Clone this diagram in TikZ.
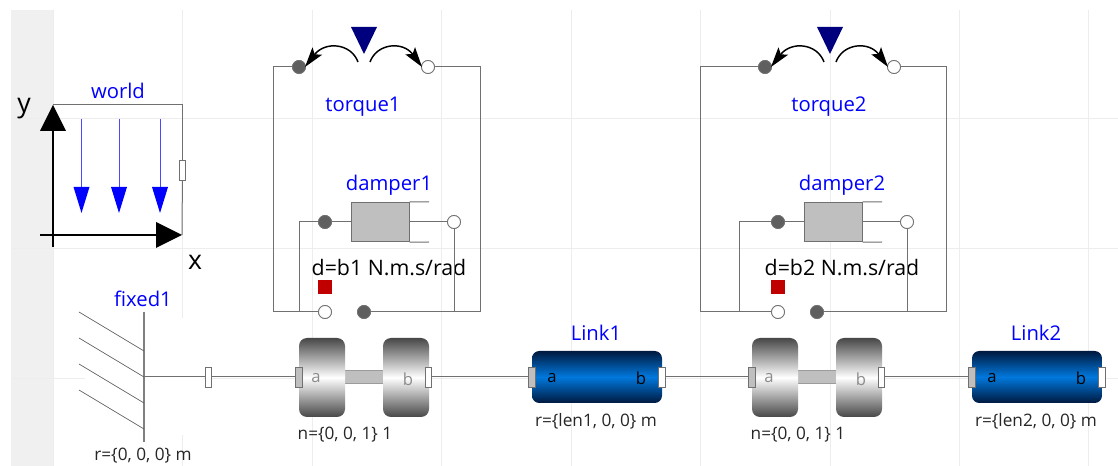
\documentclass[tikz,border=0pt]{standalone}
\usepackage{fontspec}
\setmainfont{Open Sans}
\usetikzlibrary{arrows.meta}
\definecolor{gridc}{HTML}{EDEDED}
\definecolor{wire}{HTML}{707070}
\definecolor{dark}{HTML}{5F5F5F}
\definecolor{silver}{HTML}{BFBFBF}
\definecolor{navyt}{HTML}{00007F}
\definecolor{mredd}{HTML}{C00000}
\definecolor{linkd}{HTML}{00193F}
\definecolor{linkm}{HTML}{0078DC}
\definecolor{bluethin}{HTML}{4A4AFF}
\tikzset{
 x=0.75pt,y=-0.75pt,
 wirel/.style={draw=wire,line width=0.75pt},
 flange/.style={circle,draw=wire,line width=0.6pt,minimum size=9.75pt,inner sep=0pt},
 darkf/.style={flange,fill=dark},
 whitef/.style={flange,fill=white},
 portw/.style={draw=wire,line width=0.6pt,fill=white,minimum width=5pt,minimum height=15pt,inner sep=0pt},
 ports/.style={portw,fill=silver},
 lab/.style={text=blue,font=\fontsize{15.2}{15}\selectfont,inner sep=0pt},
 par/.style={text=black,font=\fontsize{16}{16}\selectfont,inner sep=0pt},
 small/.style={text=black!85,font=\fontsize{12.9}{13}\selectfont,inner sep=0pt},
 wheel/.style={rounded corners=6pt,top color=black!72,bottom color=black!72,middle color=white,draw=none},
 linkbody/.style={rounded corners=5.5pt,top color=linkd,bottom color=linkd,middle color=linkm,draw=none},
 shaftb/.style={fill=silver,draw=wire!70,line width=0.5pt},
 damperb/.style={draw=wire,line width=0.75pt,fill=silver,inner sep=0pt,minimum width=43.5pt,minimum height=29.5pt},
 curvea/.style={line width=1.1pt,-{Stealth[length=15pt,width=9pt,inset=3pt]}},
 blueh/.style={draw=bluethin,line width=0.75pt},
}
% revolute joint: #1 name, #2 x offset
\newcommand{\revjoint}[2]{%
 \begin{scope}[shift={(#2,0)}]
 \draw[shaftb] (344,370) rectangle (384,383);
 \shade[wheel] (299,338) rectangle (345,417);
 \shade[wheel] (383,338) rectangle (429,417);
 \node[text=black!45,font=\fontsize{12.5}{12.5}\selectfont,inner sep=0pt] at (316,378) {a};
 \node[text=black!45,font=\fontsize{12.5}{12.5}\selectfont,inner sep=0pt] at (408,379) {b};
 \node[ports] (#1a) at (299,377) {};
 \node[portw] (#1b) at (428.5,377) {};
 \node[small] at (345,435) {n=\{0, 0, 1\} 1};
 \end{scope}}
% link: #1 name, #2 x offset, #3 title, #4 length name
\newcommand{\linkbar}[4]{%
 \begin{scope}[shift={(#2,0)}]
 \shade[linkbody] (532,351) rectangle (662,403);
 \node[text=black,font=\fontsize{12.5}{12.5}\selectfont,inner sep=0pt] at (552,378) {a};
 \node[text=black,font=\fontsize{12.5}{12.5}\selectfont,inner sep=0pt] at (641,378) {b};
 \node[ports] (#1a) at (532,377) {};
 \node[portw] (#1b) at (662,377) {};
 \node[lab] at (596,333) {#3};
 \node[small] at (596,421) {r=\{#4, 0, 0\} m};
 \end{scope}}
% torque source and damper group: #1 suffix, #2 torque dx, #3 damper dx, #4 outer left wire x, #5 index, #6 inner left wire x
\newcommand{\drivegroup}[6]{%
 \begin{scope}[shift={(#2,0)}]
 \fill[navyt] (351,27) -- (377,27) -- (364,54) -- cycle;
 \node[darkf] (ta#1) at (299,67) {};
 \node[whitef] (tb#1) at (428,67) {};
 \coordinate (wr#1) at (480,312);
 \end{scope}
 \coordinate (wl#1) at (#4,312);
 \coordinate (dl#1) at (#6,312);
 \begin{scope}[shift={(#3,0)}]
 \node[damperb] (db#1) at (380,222) {};
 \node[darkf] (da#1) at (325,222) {};
 \node[whitef] (dc#1) at (454,222) {};
 \coordinate (dt#1) at (429,202);
 \coordinate (dd#1) at (429,242);
 \node[lab] at (389,185) {damper#5};
 \node[par] at (389,268) {d=b#5 N.m.s/rad};
 \fill[mredd] (318,280) rectangle (332,294);
 \node[whitef] (fa#1) at (325,312) {};
 \node[darkf] (fb#1) at (364,312) {};
 \end{scope}
 \draw[wirel] (ta#1) -| (wl#1) -- (fa#1);
 \draw[wirel] (tb#1) -| (wr#1) -- (fb#1);
 \draw[wirel] (da#1) -| (dl#1);
 \draw[wirel] (dc#1) -- (dc#1 |- wr#1);
 \draw[wirel] (da#1) -- (db#1);
 \draw[wirel] (db#1) -- (dc#1);
 \draw[wirel] (db#1.north east) -- (dt#1);
 \draw[wirel] (db#1.south east) -- (dd#1);
 \node[damperb] at (db#1) {};
 \node[darkf] at (da#1) {};
 \node[whitef] at (dc#1) {};
 \node[whitef] at (fa#1) {};
 \node[darkf] at (fb#1) {};
 \node[darkf] at (ta#1) {};
 \node[whitef] at (tb#1) {};
 \begin{scope}[shift={(#2,0)}]
 \draw[curvea] (358,62) .. controls (351,43) and (325,41) .. (305,67);
 \draw[curvea] (370,62) .. controls (377,43) and (403,41) .. (422,67);
 \node[lab] at (363,107) {torque#5};
 \end{scope}
}
\begin{document}
\begin{tikzpicture}
\useasboundingbox (0,0) rectangle (1118,466);
\fill[white] (0,0) rectangle (1118,466);
% canvas grid
\fill[black!6] (11,10) rectangle (53,466);
\foreach \gx in {53,182,312,441,571,700,830,959,1088}
  \draw[gridc,line width=0.6pt] (\gx,10) -- (\gx,466);
\foreach \gy in {118,248,378}
  \draw[gridc,line width=0.6pt] (11,\gy) -- (1118,\gy);
\fill[white] (85,318) rectangle (203,435);
% world
\node[portw,minimum height=15pt] (wp) at (182.5,170) {};
\coordinate (wtl) at (53,105);
\coordinate (wbr) at (182,235);
\draw[wirel] (wtl) -- (wtl -| wp) -- (wp);
\draw[wirel] (wp) -- (wbr);
\node[portw] at (wp) {};
\foreach \ax in {81.5,119,160}{
  \draw[blueh] (\ax,119) -- (\ax,190);
  \fill[blue] (\ax-8,187) -- (\ax+8,187) -- (\ax,213) -- cycle;
}
\coordinate (yb) at (53,247);
\coordinate (xb) at (40,235);
\draw[black,line width=1.7pt] (yb) -- (53,128);
\fill[black] (40,131) -- (66,131) -- (53,105) -- cycle;
\draw[black,line width=1.7pt] (xb) -- (160,235);
\fill[black] (156,222) -- (156,248) -- (182,235) -- cycle;
\node[lab] at (118,91) {world};
\node[par,font=\fontsize{20}{20}\selectfont] at (24,109) {y};
\node[par,font=\fontsize{20}{20}\selectfont] at (195,262) {x};
% fixed
\draw[draw=black!50,line width=0.9pt] (144,312) -- (144,442);
\foreach \hy in {312,338,364,390}
  \draw[draw=wire!80!black,line width=0.5pt] (79,\hy) -- (144,\hy+39);
\node[lab] at (143,299) {fixed1};
\node[small] at (143,456) {r=\{0, 0, 0\} m};
\coordinate (fixc) at (144,377);
\node[portw] (fp) at (208.5,377) {};
% drive groups
\drivegroup{A}{0}{0}{273}{1}{299}
\drivegroup{B}{466}{453}{700}{2}{739}
% joints and links
\revjoint{ra}{0}
\revjoint{rb}{453}
\linkbar{la}{0}{Link1}{len1}
\linkbar{lb}{440}{Link2}{len2}
\draw[wirel] (fixc) -- (fp);
\draw[wirel] (fp) -- (raa);
\draw[wirel] (rab) -- (laa);
\draw[wirel] (lab) -- (rba);
\draw[wirel] (rbb) -- (lba);
\end{tikzpicture}
\end{document}
